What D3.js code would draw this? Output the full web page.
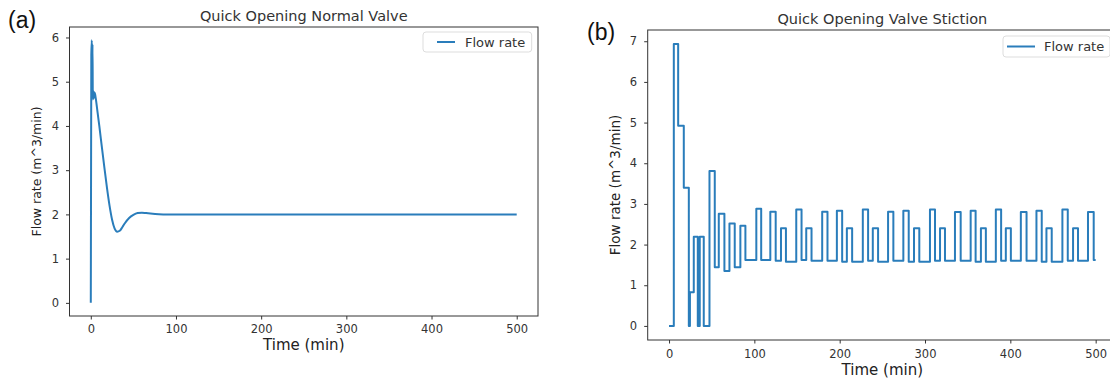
<!DOCTYPE html>
<html>
<head>
<meta charset="utf-8">
<script src="https://cdn.jsdelivr.net/npm/d3@7/dist/d3.min.js"></script>
<style>
  html, body { margin: 0; padding: 0; background: #fff; }
  svg { display: block; font-family: "DejaVu Sans", sans-serif; }
</style>
</head>
<body>
<div id="chart"></div>
<script>
// (a) normal valve: smooth response
const normalTime = [0, 0.6, 1.2, 1.6, 2.0, 2.4, 2.8, 3.3, 4, 5, 6, 8, 10, 13, 16, 19, 22, 25, 28, 31, 34, 37, 40, 45, 50, 55, 60, 65, 70, 80, 90, 100, 200, 300, 400, 500];
const normalFlow = [0, 5.6, 5.94, 4.65, 5.85, 4.6, 4.8, 4.62, 4.76, 4.72, 4.6, 4.3, 4.0, 3.52, 3.05, 2.6, 2.2, 1.88, 1.68, 1.61, 1.63, 1.71, 1.8, 1.92, 1.99, 2.03, 2.04, 2.03, 2.02, 2.005, 2.0, 2.0, 2.0, 2.0, 2.0, 2.0];

// (b) valve with stiction: value holds from each time until the next one
const stictionTime = [0, 5.6, 10.7, 17.3, 23.2, 24.5, 29, 33.7, 36, 40.7, 47.4, 53.6, 58.3, 64.9, 70.8, 77, 83.6, 89.5,
  102.3, 108, 118.7, 125, 131.2, 137, 149.1, 155.3, 160.8, 167, 179.5, 185.7, 196.7, 202.9, 208.4, 214.6,
  227.1, 233.3, 238.8, 245, 256.7, 262.9, 274.6, 280.9, 287.1, 293.3, 305.8, 311.7, 317.6, 323.4,
  335.1, 341.8, 353.5, 359.3, 365.5, 371.3, 383, 389.2, 394.7, 400.6, 412.3, 419, 430.6, 436.8,
  442.3, 448.5, 461, 467.3, 473.5, 479.3, 491, 497.7, 500];
const stictionFlow = [0, 6.93, 4.92, 3.4, 0, 0.83, 2.19, 0, 2.19, 0, 3.81, 1.44, 2.76, 1.35, 2.52, 1.44, 2.46, 1.62,
  2.88, 1.62, 2.81, 1.6, 2.4, 1.58, 2.86, 1.62, 2.4, 1.6, 2.81, 1.6, 2.83, 1.58, 2.4, 1.58,
  2.86, 1.6, 2.4, 1.58, 2.81, 1.6, 2.83, 1.58, 2.4, 1.58, 2.86, 1.6, 2.4, 1.6,
  2.8, 1.6, 2.83, 1.58, 2.4, 1.58, 2.86, 1.6, 2.4, 1.6, 2.8, 1.6, 2.83, 1.58,
  2.4, 1.58, 2.86, 1.6, 2.4, 1.6, 2.8, 1.62, 1.62];

const timeTicks = [0, 100, 200, 300, 400, 500];
const normalTicks = [0, 1, 2, 3, 4, 5, 6];
const stictionTicks = [0, 1, 2, 3, 4, 5, 6, 7];

const lineColor = '#2a7dbb';
const inkColor = '#333';

const svg = d3.select('#chart').append('svg')
  .attr('width', 1110)
  .attr('height', 380);

// matplotlib-like 5% padding around the data
function padded(values) {
  const [lo, hi] = d3.extent(values);
  const m = (hi - lo) * 0.05;
  return [lo - m, hi + m];
}

function drawPanel(p) {
  const x = d3.scaleLinear().domain(padded(p.time)).range([p.left, p.right]);
  const y = d3.scaleLinear().domain(padded(p.flow)).range([p.bottom, p.top]);

  const xAxis = svg.append('g')
    .attr('transform', `translate(0,${p.bottom})`)
    .call(d3.axisBottom(x).tickValues(timeTicks).tickFormat(d3.format('d')).tickSize(3.5).tickPadding(p.xPad));
  const yAxis = svg.append('g')
    .attr('transform', `translate(${p.left},0)`)
    .call(d3.axisLeft(y).tickValues(p.yTicks).tickFormat(d3.format('d')).tickSize(3.5).tickPadding(7));

  [xAxis, yAxis].forEach(a => {
    a.select('.domain').remove();
    a.selectAll('line').attr('stroke', inkColor);
    a.selectAll('text')
      .attr('fill', inkColor)
      .style('font-family', '"DejaVu Sans", sans-serif')
      .style('font-size', '11.5px');
  });

  const pts = p.time.map((t, i) => [t, p.flow[i]]);
  const line = d3.line()
    .x(d => x(d[0]))
    .y(d => y(d[1]))
    .curve(p.curve);

  svg.append('path')
    .datum(pts)
    .attr('fill', 'none')
    .attr('stroke', lineColor)
    .attr('stroke-width', 2)
    .attr('stroke-linejoin', 'round')
    .attr('d', line);

  // frame
  svg.append('rect')
    .attr('x', p.left).attr('y', p.top)
    .attr('width', p.right - p.left).attr('height', p.bottom - p.top)
    .attr('fill', 'none')
    .attr('stroke', inkColor)
    .attr('stroke-width', 1);

  // legend
  const lg = p.legend;
  svg.append('rect')
    .attr('x', lg.x).attr('y', lg.y)
    .attr('width', lg.w).attr('height', lg.h)
    .attr('rx', 3)
    .attr('fill', '#fff')
    .attr('fill-opacity', 0.8)
    .attr('stroke', '#ddd');
  svg.append('line')
    .attr('x1', lg.x1).attr('x2', lg.x2)
    .attr('y1', lg.ly).attr('y2', lg.ly)
    .attr('stroke', lineColor)
    .attr('stroke-width', 2);
  svg.append('text')
    .attr('x', lg.tx).attr('y', lg.ty)
    .attr('fill', inkColor)
    .style('font-size', '13px')
    .text('Flow rate');

  // titles and labels
  const cx = (p.left + p.right) / 2;
  svg.append('text')
    .attr('x', cx).attr('y', p.titleY)
    .attr('text-anchor', 'middle')
    .attr('fill', inkColor)
    .style('font-size', '14.5px')
    .text(p.title);

  svg.append('text')
    .attr('x', cx).attr('y', p.xLabelY)
    .attr('text-anchor', 'middle')
    .attr('fill', '#222')
    .style('font-size', '15px')
    .text('Time (min)');

  svg.append('text')
    .attr('transform', `translate(${p.yLabelX},${(p.top + p.bottom) / 2}) rotate(-90)`)
    .attr('text-anchor', 'middle')
    .attr('dy', '0.35em')
    .attr('fill', '#222')
    .style('font-size', p.yLabelSize)
    .text('Flow rate (m^3/min)');

  svg.append('text')
    .attr('x', p.tagX).attr('y', p.tagY)
    .attr('fill', '#111')
    .style('font-family', '"Liberation Sans", Arial, sans-serif')
    .style('font-size', '23px')
    .text(p.tag);
}

drawPanel({
  time: normalTime, flow: normalFlow, yTicks: normalTicks, curve: d3.curveMonotoneX,
  left: 69.5, right: 538, top: 27, bottom: 316, xPad: 5.5,
  title: 'Quick Opening Normal Valve', titleY: 21, xLabelY: 350,
  yLabelX: 36.5, yLabelSize: '12.5px', tag: '(a)', tagX: 8, tagY: 28,
  legend: { x: 423, y: 32, w: 108.7, h: 20, x1: 437, x2: 455, ly: 42, tx: 465, ty: 46.5 }
});

drawPanel({
  time: stictionTime, flow: stictionFlow, yTicks: stictionTicks, curve: d3.curveStepAfter,
  left: 647.7, right: 1117, top: 30, bottom: 340, xPad: 6.5,
  title: 'Quick Opening Valve Stiction', titleY: 23.5, xLabelY: 375,
  yLabelX: 615, yLabelSize: '13.5px', tag: '(b)', tagX: 587, tagY: 40,
  legend: { x: 1003, y: 36, w: 107, h: 21, x1: 1007, x2: 1035, ly: 46.5, tx: 1044, ty: 51 }
});
</script>
</body>
</html>
